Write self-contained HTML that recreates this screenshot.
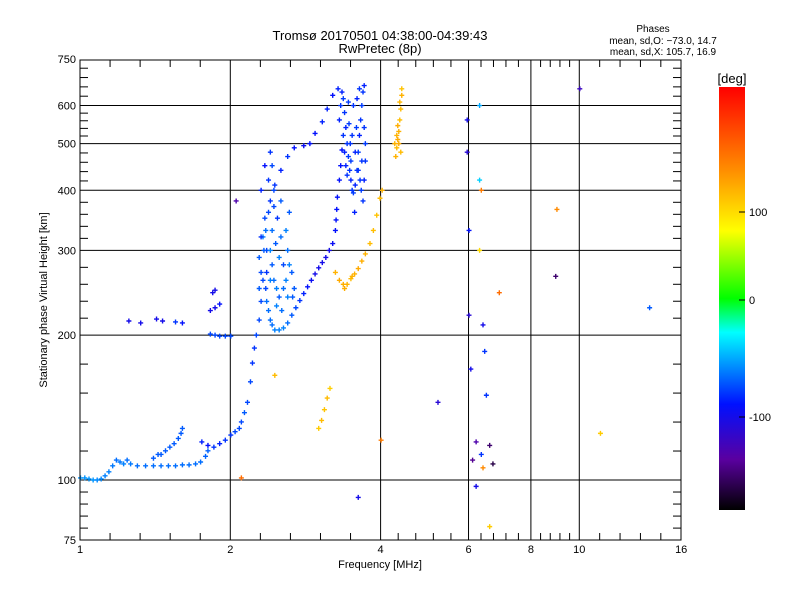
<!DOCTYPE html>
<html><head><meta charset="utf-8"><style>
html,body{margin:0;padding:0;background:#fff;}
svg{display:block;font-family:"Liberation Sans",sans-serif;}
</style></head><body>
<svg id="chart" width="800" height="600" viewBox="0 0 800 600" xmlns="http://www.w3.org/2000/svg">
<defs>
<linearGradient id="cbar" x1="0" y1="1" x2="0" y2="0">
<stop offset="0" stop-color="#000000"/><stop offset="0.12" stop-color="#5a00a0"/><stop offset="0.25" stop-color="#0010ff"/><stop offset="0.42" stop-color="#00ffff"/><stop offset="0.5" stop-color="#00ff00"/><stop offset="0.66" stop-color="#ffff00"/><stop offset="0.8" stop-color="#ff9000"/><stop offset="1" stop-color="#ff0000"/>
</linearGradient>
</defs>
<text x="380" y="40" font-size="13" text-anchor="middle">Tromsø 20170501 04:38:00-04:39:43</text>
<text x="380" y="53" font-size="13" text-anchor="middle">RwPretec (8p)</text>
<text x="653" y="32" font-size="10" text-anchor="middle">Phases</text>
<text x="663" y="44" font-size="10" text-anchor="middle">mean, sd,O: −73.0, 14.7</text>
<text x="663" y="55" font-size="10" text-anchor="middle">mean, sd,X: 105.7, 16.9</text>
<g id="grid"></g>
<g id="marks"></g>
<rect x="80" y="60" width="601" height="480" fill="none" stroke="#000" stroke-width="1"/>
<g id="axes"></g>
<text x="380" y="568" font-size="11" text-anchor="middle">Frequency [MHz]</text>
<text transform="translate(47,300) rotate(-90)" font-size="11" text-anchor="middle">Stationary phase Virtual Height [km]</text>
<rect x="719" y="87" width="26" height="423" fill="url(#cbar)"/>
<text x="732" y="83" font-size="13" text-anchor="middle">[deg]</text>
<g id="cbticks"></g>
</svg>
<script>
const NS="http://www.w3.org/2000/svg";
const xTickVals=[1,2,4,6,8,10,16];
const xTickLabels=["1","2","4","6","8","10","16"];
const xGridVals=[2,4,6,8,10];
const yTickVals=[75,100,200,300,400,500,600,750];
const yTickLabels=["75","100","200","300","400","500","600","750"];
const yGridVals=[100,200,300,400,500,600];
const cbVals=[100,0,-100];
const cbLabels=["100","0","-100"];
// points: frequency (MHz), height (km), phase (deg)
const eLowF=[1.00,1.02,1.04,1.06,1.08,1.10,1.12,1.14,1.16,1.18,1.20,1.22,1.24,1.26,1.30,1.35,1.40,1.45,1.50,1.55,1.60,1.65,1.70,1.74,1.78,1.80];
const eLowH=[101,101,100.5,100,100,100.5,102,104,107,110,109,108,110,108,107,107,107,107,107,107,107.5,107.5,108,109,112,115];
const eLowP=[-55,-55,-55,-55,-58,-58,-60,-60,-62,-65,-62,-60,-65,-62,-65,-65,-65,-65,-65,-65,-65,-65,-65,-65,-68,-68];
const eUpF=[1.40,1.43,1.45,1.48,1.51,1.54,1.57,1.59,1.60,1.75,1.80,1.85,1.90,1.95,2.00,2.04,2.08,2.10,2.13,2.16,2.19,2.21,2.23,2.25,2.28,2.30,2.32];
const eUpH=[111,113,113,115,117,119,122,125,128,120,118,117,119,121,124,126,128,132,138,145,160,175,188,200,215,235,260];
const eUpP=[-70,-70,-70,-70,-70,-70,-70,-70,-70,-85,-90,-80,-85,-80,-80,-75,-75,-75,-70,-75,-75,-80,-80,-75,-75,-75,-75];
const sLeftF=[1.25,1.32,1.42,1.46,1.55,1.60,1.82,1.86,1.90,1.95,2.00,1.82,1.86,1.90,1.84,1.86];
const sLeftH=[214,212,216,214,213,212,201,200,199,199,199,225,228,232,245,248];
const sLeftP=[-100,-100,-100,-100,-80,-90,-75,-75,-75,-75,-75,-100,-100,-90,-100,-100];
const fLowF=[2.36,2.38,2.40,2.42,2.45,2.50,2.55,2.60,2.65,2.70,2.75,2.80,2.85,2.90,2.95,3.00,3.05,3.10,3.15,3.20,3.24,3.25,3.26,3.27,3.30,3.32,3.34];
const fLowH=[235,225,215,210,205,205,207,212,220,228,236,244,252,260,268,276,283,290,300,310,330,347,365,387,420,450,485];
const fLowP=[-65,-65,-65,-65,-60,-60,-60,-65,-70,-75,-80,-85,-90,-95,-100,-100,-100,-100,-100,-95,-90,-90,-90,-90,-90,-90,-90];
const fUpF=[2.30,2.34,2.40,2.45,2.52,2.60,2.68,2.80,2.88,2.95,3.05,3.12,3.20,3.28];
const fUpH=[320,350,380,410,440,470,490,495,500,525,555,590,630,650];
const fUpP=[-80,-75,-80,-80,-85,-80,-90,-95,-90,-90,-85,-85,-90,-85];
const cloudF=[2.28,2.32,2.36,2.42,2.46,2.50,2.55,2.60,2.65,2.40,2.35,2.55,2.48,2.52,2.44,2.38,2.58,2.62,2.30,2.34,2.40,2.42,2.47,2.53,2.60,2.28,2.68,2.62,2.30,2.33,2.35,2.38,2.40,2.42,2.44,2.47,2.50,2.36,2.44,2.52,2.58,2.66];
const cloudH=[290,320,300,330,310,290,280,300,270,260,250,250,350,380,400,420,330,360,400,450,480,450,230,225,240,250,250,280,270,300,330,360,300,280,260,250,240,270,370,320,260,240];
const cloudP=[-70,-60,-75,-65,-70,-60,-75,-65,-70,-60,-75,-65,-80,-70,-75,-80,-60,-70,-85,-90,-80,-75,-60,-65,-60,-70,-70,-60,-75,-70,-65,-75,-60,-70,-65,-60,-70,-80,-75,-65,-60,-70];
const colF=[3.30,3.32,3.34,3.36,3.38,3.40,3.42,3.44,3.46,3.48,3.50,3.52,3.55,3.58,3.60,3.62,3.64,3.66,3.68,3.70,3.45,3.50,3.55,3.60,3.65,3.68,3.70,3.72,3.72,3.70,3.38,3.42,3.48,3.52,3.58,3.62,3.44,3.36,3.54,3.47,3.57,3.66,3.40,3.63];
const colH=[560,600,640,620,580,540,500,470,440,420,400,395,410,440,480,520,560,600,640,660,550,520,480,440,400,380,420,460,500,540,480,430,460,600,620,650,610,520,360,500,540,460,450,420];
const colP=[-85,-80,-85,-78,-80,-85,-80,-78,-80,-85,-80,-78,-85,-80,-78,-85,-80,-78,-80,-85,-78,-80,-85,-80,-78,-80,-85,-80,-78,-80,-85,-80,-78,-80,-85,-80,-78,-80,-85,-80,-78,-80,-85,-80];
const xF=[3.24,3.30,3.36,3.42,3.48,3.54,3.60,3.66,3.72,3.80,3.86,3.92,3.98,4.02,4.28,4.30,4.32,4.34,4.36,4.38,4.40,4.40,4.30,4.34,4.38,4.26,4.32,4.36,3.00,3.04,3.08,3.12,3.16,3.38,3.50];
const xH=[270,260,255,255,262,268,275,285,295,310,330,355,385,400,470,490,510,530,560,590,630,650,520,500,480,500,545,610,128,133,140,148,155,250,265];
const xP=[125,130,128,125,120,125,130,128,125,120,118,115,120,125,125,120,130,125,118,120,125,115,125,130,120,125,128,122,110,120,115,120,108,128,125];
const sRightF=[5.95,5.95,6.00,6.00,6.05,6.10,6.20,6.30,6.30,6.35,6.30,6.40,6.50,6.35,6.40,6.60,6.70,6.90,8.95,10.0,11.0,13.8,5.20,9.00,6.60,6.20,4.00,2.10,2.05,2.45,3.60,6.45];
const sRightH=[560,480,330,220,170,110,97,600,420,400,300,210,150,113,106,118,108,245,265,650,125,228,145,365,80,120,121,101,380,165,92,185];
const sRightP=[-100,-110,-90,-110,-100,-140,-100,-50,-40,160,100,-100,-80,-80,150,-150,-160,170,-150,-120,110,-70,-110,150,110,-130,160,170,-130,120,-100,-80];

const x=f=>80+150.3*Math.log2(f);
const y=h=>480-209*Math.log(h/100);
const pY=p=>p>=0?300-p*0.88:300-p*1.17;
function col(p){
  const t=(510-pY(p))/423;
  const st=[[0,[0,0,0]],[0.12,[90,0,160]],[0.25,[0,16,255]],[0.42,[0,255,255]],[0.5,[0,255,0]],[0.66,[255,255,0]],[0.8,[255,144,0]],[1,[255,0,0]]];
  for(let i=1;i<st.length;i++){if(t<=st[i][0]){const a=st[i-1],b=st[i];const u=(t-a[0])/(b[0]-a[0]);
    return "rgb("+a[1].map((v,k)=>Math.round(v+(b[1][k]-v)*u)).join(",")+")";}}
  return "rgb(255,0,0)";
}
function mk(tag,attrs,parent){const e=document.createElementNS(NS,tag);for(const k in attrs)e.setAttribute(k,attrs[k]);parent.appendChild(e);return e;}
const grid=document.getElementById('grid'),axes=document.getElementById('axes'),marks=document.getElementById('marks'),cbt=document.getElementById('cbticks');
xGridVals.forEach(v=>{const l=mk('line',{x1:x(v),x2:x(v),y1:60,y2:540,stroke:'#000','stroke-width':1},grid);

});
yGridVals.forEach(v=>{const l=mk('line',{x1:80,x2:681,y1:y(v),y2:y(v),stroke:'#000','stroke-width':1},grid);

});
// minor ticks: 5 equal pixel intervals between major ticks
for(let i=0;i<yTickVals.length-1;i++){const y0=y(yTickVals[i]),y1=y(yTickVals[i+1]);
  for(let k=1;k<5;k++){const yy=y0+(y1-y0)*k/5;
    const a=mk('line',{x1:80,x2:88,y1:yy,y2:yy,stroke:'#000'},axes);
    
    
    const b=mk('line',{x1:673,x2:681,y1:yy,y2:yy,stroke:'#000'},axes);
    
    }}
for(let i=0;i<xTickVals.length-1;i++){const x0=x(xTickVals[i]),x1=x(xTickVals[i+1]);
  for(let k=1;k<5;k++){const xx=x0+(x1-x0)*k/5;
    const a=mk('line',{x1:xx,x2:xx,y1:60,y2:67,stroke:'#000'},axes);
    
    
    const b=mk('line',{x1:xx,x2:xx,y1:533,y2:540,stroke:'#000'},axes);
    
    }}
xTickVals.forEach((v,i)=>{const t=mk('text',{x:x(v),y:553,'font-size':11,'text-anchor':'middle'},axes);t.textContent=xTickLabels[i];

});
yTickVals.forEach((v,i)=>{const t=mk('text',{x:76,y:y(v)+4,'font-size':11,'text-anchor':'end'},axes);t.textContent=yTickLabels[i];

});
cbVals.forEach((v,i)=>{const yy=pY(v);
  const l=mk('line',{x1:739,x2:745,y1:yy,y2:yy,stroke:'#000'},cbt);
  
  
  const t=mk('text',{x:749,y:yy+4,'font-size':11},cbt);t.textContent=cbLabels[i];
  
  });
function series(F,H,P,name){F.forEach((f,i)=>{const cx=x(f),cy=y(H[i]),c=col(P[i]);
  const g=mk('path',{d:`M${cx-2} ${cy}h5M${cx+0.5} ${cy-2.5}v5`,stroke:c,'stroke-width':1.4,fill:'none'},marks);
  
  });}
series(eLowF,eLowH,eLowP,'e-layer-low-point');
series(eUpF,eUpH,eUpP,'e-layer-upper-point');
series(sLeftF,sLeftH,sLeftP,'scatter-left-point');
series(cloudF,cloudH,cloudP,'f-cloud-point');
series(fLowF,fLowH,fLowP,'f-o-trace-point');
series(fUpF,fUpH,fUpP,'f-upper-trace-point');
series(colF,colH,colP,'f-column-point');
series(xF,xH,xP,'x-trace-point');
series(sRightF,sRightH,sRightP,'scatter-right-point');
</script>
</body></html>
